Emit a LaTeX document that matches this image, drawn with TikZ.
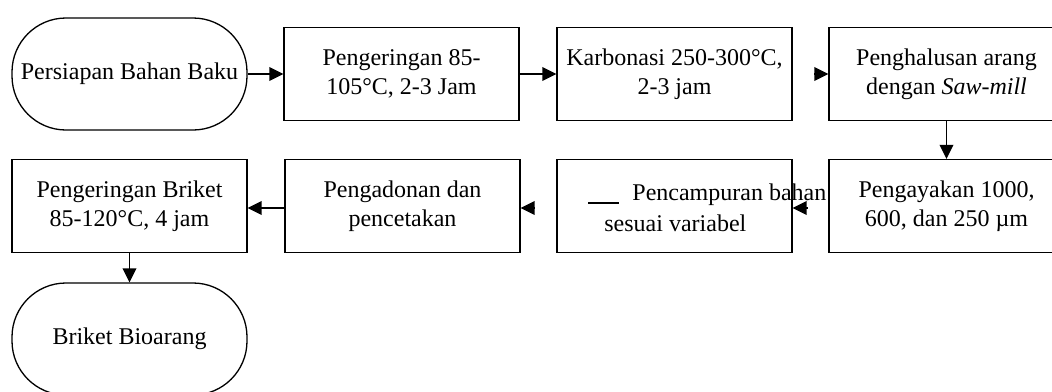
\documentclass[tikz,border=0pt]{standalone}
\usepackage{fontspec}
\setmainfont{Liberation Serif}
\usetikzlibrary{arrows.meta}
\tikzset{
  pbox/.style={draw=black, line width=0.65pt, minimum width=117.5pt, minimum height=46.5pt, align=center, inner sep=2pt, font=\fontsize{12}{14.5}\selectfont},
  term/.style={draw=black, line width=0.65pt, rounded corners=27pt, minimum width=117.5pt, minimum height=56pt, align=center, inner sep=2pt, font=\fontsize{12}{14.5}\selectfont},
  arr/.style={line width=0.85pt, -{Triangle[length=7pt,width=6.8pt]}},
  txt/.style={inner sep=0pt, font=\fontsize{12}{14.5}\selectfont}
}
\begin{document}
\begin{tikzpicture}[x=0.5pt,y=-0.5pt]
\useasboundingbox (0,0) rectangle (1052,391);
\clip (0,0) rectangle (1052,391);
\fill[white] (0,0) rectangle (1052,391);
% nodes
\node[term] (t1) at (129.5,74) {Persiapan Bahan Baku};
\node[pbox] (b1) at (401.5,74) {Pengeringan 85-\\105°C, 2-3 Jam};
\node[pbox] (b2) at (674.5,74) {Karbonasi 250-300°C,\\2-3 jam};
\node[pbox] (b3) at (946.5,74) {Penghalusan arang\\dengan \textit{Saw-mill}};
\node[pbox] (b4) at (946.5,206) {Pengayakan 1000,\\600, dan 250 µm};
\node[pbox] (b5) at (674.5,206) {};
\node[txt, anchor=base west] (b5a) at (632,200) {Pencampuran bahan};
\node[txt, anchor=base west] (b5b) at (604,231) {sesuai variabel};
\coordinate (d1) at (588,203);
\coordinate (d2) at (619,203);
\draw[line width=0.6pt] (d1) -- (d2);
\node[pbox] (b6) at (402.5,206) {Pengadonan dan\\pencetakan};
\node[pbox] (b7) at (129.5,206) {Pengeringan Briket\\85-120°C, 4 jam};
\node[term] (t2) at (129.5,339) {Briket Bioarang};
% connectors
\draw[arr] (t1.east) -- (b1.west);
\draw[arr] (b1.east) -- (b2.west);
\draw[arr] ([xshift=-7pt]b3.west) -- (b3.west);
\draw[arr] (b3.south) -- (b4.north);
\draw[arr] ([xshift=7.5pt,yshift=-1pt]b5.east) -- ([yshift=-1pt]b5.east);
\draw[arr] ([xshift=7pt,yshift=-1pt]b6.east) -- ([yshift=-1pt]b6.east);
\draw[arr] ([yshift=-1pt]b6.west) -- ([yshift=-1pt]b7.east);
\draw[arr] (b7.south) -- (t2.north);
\end{tikzpicture}
\end{document}
